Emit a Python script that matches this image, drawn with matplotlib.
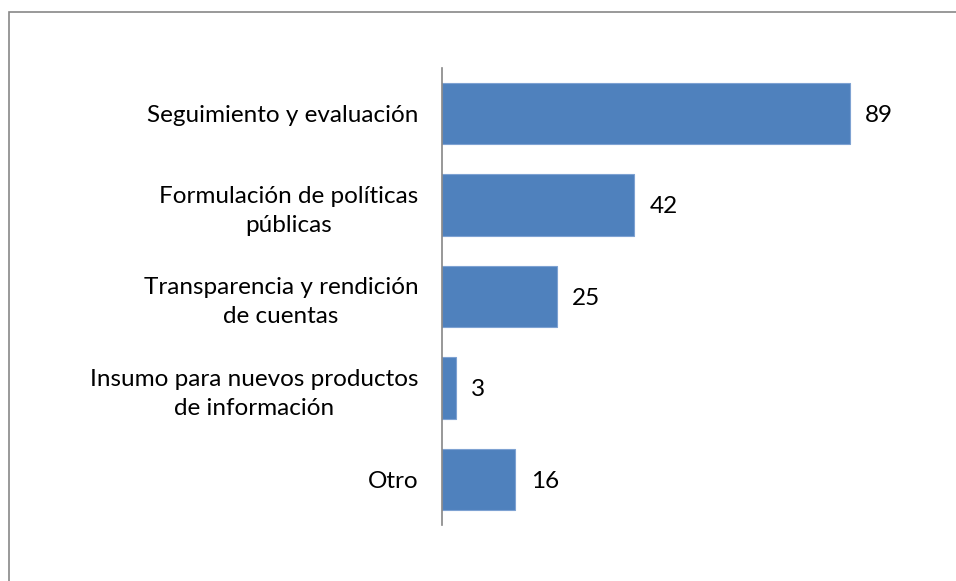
import matplotlib.pyplot as plt
from matplotlib.patches import Rectangle

categorias = ['Seguimiento y evaluación',
              'Formulación de políticas\npúblicas',
              'Transparencia y rendición\nde cuentas',
              'Insumo para nuevos productos\nde información',
              'Otro']
valores = [89, 42, 25, 3, 16]

plt.rcParams['font.family'] = ['Lato', 'DejaVu Sans']

fig = plt.figure(figsize=(9.56, 5.81), dpi=100)
ax = fig.add_axes([442/956, 1 - 525/581, 458/956, 457/581])

y = list(range(len(categorias)))
ax.barh(y, valores, height=0.67, color='#4F81BD', edgecolor='#7EA2D2', linewidth=0.8)
ax.set_ylim(len(categorias) - 0.5, -0.5)
ax.set_xlim(0, 100)

ax.set_yticks(y)
ax.set_yticklabels(categorias, fontsize=17.5, multialignment='center', linespacing=1.45)
ax.tick_params(axis='y', length=0, pad=17)
ax.set_xticks([])

for s in ['top', 'right', 'bottom']:
    ax.spines[s].set_visible(False)
ax.spines['left'].set_color('#868686')
ax.spines['left'].set_linewidth(1.2)

for yi, v in zip(y, valores):
    ax.text(v + 3.4, yi + 0.02, str(v), va='center', ha='left', fontsize=17.5)

# chart area border
fig.patches.append(Rectangle((9/956, -0.1), 1.1, 1 - 12/581 + 0.1,
                             transform=fig.transFigure, fill=False,
                             edgecolor='#878787', linewidth=1.2))

fig.savefig('out.png', dpi=100)
